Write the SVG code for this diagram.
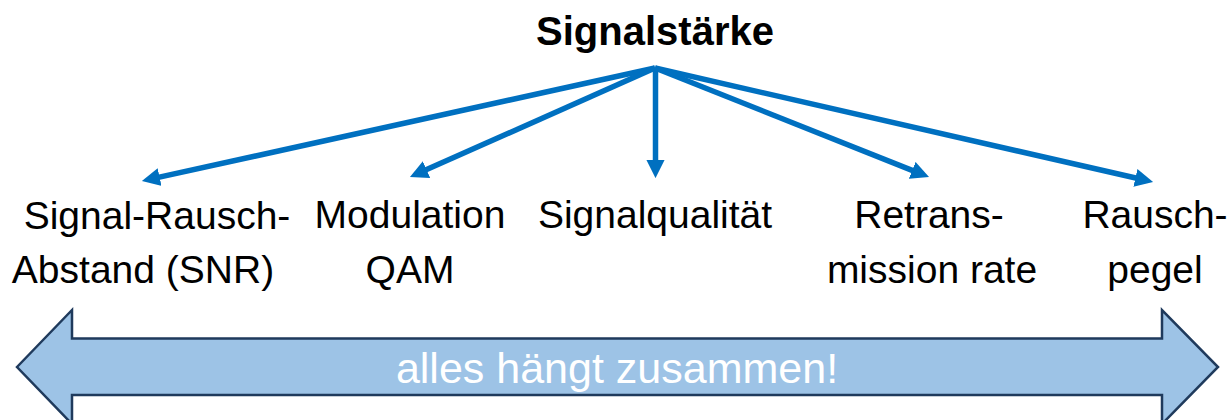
<svg xmlns="http://www.w3.org/2000/svg" width="1227" height="420" viewBox="0 0 1227 420">
<style>
.lbl{font-family:"Liberation Sans",Arial,sans-serif;font-size:39px;fill:#000;text-anchor:middle}
.title{font-family:"Liberation Sans",Arial,sans-serif;font-size:40px;font-weight:bold;fill:#000;text-anchor:middle}
.conn{stroke:#0070C0;stroke-width:5.5;fill:none;marker-end:url(#ah)}
.big{fill:#9DC3E6;stroke:#1F3A5C;stroke-width:2.5;stroke-linejoin:miter}
.bigtxt{font-family:"Liberation Sans",Arial,sans-serif;font-size:43px;fill:#fff;text-anchor:middle}
</style>
<defs>
<marker id="ah" viewBox="0 0 10 10" refX="3.33" refY="5" markerWidth="3.3" markerHeight="3.3" orient="auto" markerUnits="strokeWidth">
<path d="M0,0 L10,5 L0,10 z" fill="#0070C0"/>
</marker>
</defs>
<rect width="1227" height="420" fill="#fff"/>
<g id="title"><text class="title" x="655" y="45">Signalstärke</text></g>
<g id="connectors">
<line class="conn" x1="655" y1="68" x2="153.7" y2="178.4"/>
<line class="conn" x1="655" y1="68" x2="421" y2="172.1"/>
<line class="conn" x1="655.5" y1="68" x2="655.5" y2="166"/>
<line class="conn" x1="655" y1="68" x2="917.8" y2="172.6"/>
<line class="conn" x1="655" y1="68" x2="1141.3" y2="179.3"/>
</g>
<g id="snr"><text class="lbl" x="157" y="229">Signal-Rausch-</text><text class="lbl" x="143" y="283">Abstand (SNR)</text></g>
<g id="modulation"><text class="lbl" x="410" y="228">Modulation</text><text class="lbl" x="410" y="283">QAM</text></g>
<g id="qualitaet"><text class="lbl" x="655" y="228">Signalqualität</text></g>
<g id="retrans"><text class="lbl" x="929" y="228">Retrans-</text><text class="lbl" x="932" y="283">mission rate</text></g>
<g id="rauschpegel"><text class="lbl" x="1155" y="228">Rausch-</text><text class="lbl" x="1155" y="283">pegel</text></g>
<g id="bigarrow">
<polygon class="big" points="17,367 72,310 72,338.5 1162,338.5 1162,310 1218,367 1162,424 1162,395 72,395 72,424"/>
<text class="bigtxt" x="617" y="383">alles hängt zusammen!</text>
</g>
</svg>
